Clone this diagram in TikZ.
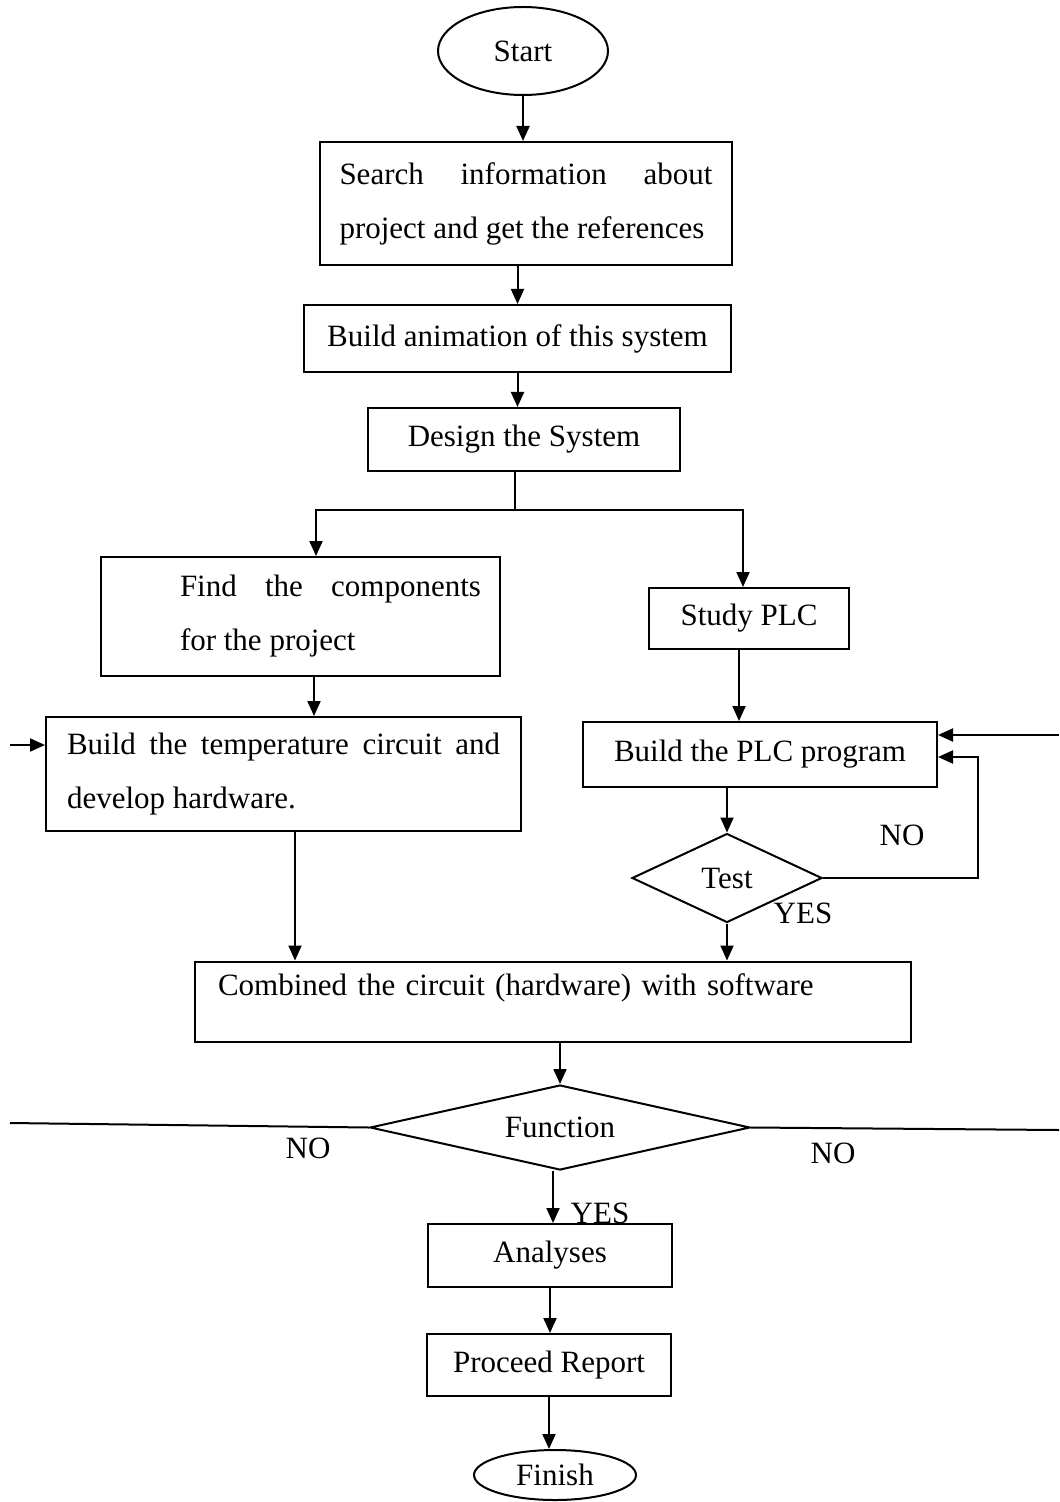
\documentclass[tikz,border=0pt]{standalone}
\usepackage{fontspec}
\setmainfont{Liberation Serif}
\usetikzlibrary{arrows.meta,shapes.geometric}
\hyphenpenalty=10000
\tolerance=9999

\begin{document}
\begin{tikzpicture}[x=0.5pt,y=-0.5pt,>={Triangle[length=7.5pt,width=6.5pt]},
  line width=1pt,
  font=\fontsize{15.5pt}{27pt}\selectfont,
  term/.style={draw,ellipse,inner sep=0pt},
  proc/.style={draw,rectangle,inner sep=0pt,align=center},
  para/.style={draw,rectangle,inner ysep=0pt,align=justify},
  decide/.style={draw,diamond,inner sep=0pt},
  lbl/.style={inner sep=0pt}]
  \useasboundingbox (0,0) rectangle (1059,1502);
  % main column
  \node[term,minimum width=85pt,minimum height=44pt] (start) at (523,51) {Start};
  \node[para,text width=186.5pt,inner xsep=9.75pt,minimum height=61.5pt] (search) at (526,203.5)
       {Search information about project and get the references};
  \node[proc,minimum width=213.5pt,minimum height=33.5pt] (anim) at (517.5,338.5) {Build animation of this system};
  \node[proc,minimum width=156pt,minimum height=31.5pt] (design) at (524,439.5) {Design the System};
  % left branch (hardware)
  \node[para,text width=180.5pt,inner xsep=9.5pt,minimum height=59.5pt] (find) at (300.5,616.5)
       {{\leftskip=30pt Find the components\linebreak for the project\par}};
  \node[para,text width=216.5pt,inner xsep=10.5pt,minimum height=57pt] (temp) at (283.5,774)
       {Build the temperature circuit and develop hardware.};
  % right branch (software)
  \node[proc,minimum width=100pt,minimum height=30.5pt] (plc) at (749,618.5) {Study PLC};
  \node[proc,minimum width=177pt,minimum height=32.5pt] (prog) at (760,754.5) {Build the PLC program};
  \node[decide,shape aspect=2.1,minimum width=95pt,minimum height=44.5pt] (test) at (727,878) {Test};
  % joined part
  \node[draw,rectangle,text width=335pt,inner xsep=11.5pt,inner ysep=3pt,align=left,
        text height=14pt,text depth=20pt] (comb) at (553,1001.5)
       {Combined the circuit (hardware) with software};
  \node[decide,shape aspect=4.4,minimum width=190pt,minimum height=42.5pt] (func) at (560,1127.5) {Function};
  \node[proc,minimum width=122pt,minimum height=31.5pt] (anal) at (550,1255.5) {Analyses};
  \node[proc,minimum width=122pt,minimum height=31pt] (report) at (549,1365) {Proceed Report};
  \node[term,minimum width=81pt,minimum height=25pt] (finish) at (555,1475) {Finish};
  % labels
  \node[lbl] (noTest) at (902,835) {NO};
  \node[lbl] (yesTest) at (803,913) {YES};
  \node[lbl] (noL) at (308,1148) {NO};
  \node[lbl] (noR) at (833,1153) {NO};
  \node[lbl] (yesFunc) at (600,1213) {YES};
  % free ends and bends
  \coordinate (split) at (515,510);
  \coordinate (bl) at (316,510);
  \coordinate (br) at (743,510);
  \coordinate (inL) at (10,745);
  \coordinate (inR) at (1059,735);
  \coordinate (loopc) at (978,757);
  \coordinate (outL) at (10,1123);
  \coordinate (outR) at (1059,1130);
  % connectors
  \draw[->] (start.south) -- (start.south |- search.north);
  \draw[->] (search.south -| anim.north) -- (anim.north);
  \draw[->] (anim.south) -- (anim.south |- design.north);
  \draw (design.south -| split) -- (split);
  \draw[->] (split) -- (bl) -- (bl |- find.north);
  \draw[->] (split) -- (br) -- (br |- plc.north);
  \draw[->] ([xshift=6.75pt]find.south) -- ([xshift=6.75pt]find.south |- temp.north);
  \draw[->] (inL) -- (inL -| temp.west);
  \draw[->] ([xshift=5.75pt]temp.south) -- ([xshift=5.75pt]temp.south |- comb.north);
  \draw[->] ([xshift=-5pt]plc.south) -- ([xshift=-5pt]plc.south |- prog.north);
  \draw[->] (inR) -- (inR -| prog.east);
  \draw[->] (prog.south -| test.north) -- (test.north);
  \draw[->] (test.east) -| (loopc) -- (loopc -| prog.east);
  \draw[->] (test.south) -- (test.south |- comb.north);
  \draw[->] (comb.south -| func.north) -- (func.north);
  \draw (func.west) -- (outL);
  \draw (func.east) -- (outR);
  \draw[->] ([xshift=-3.5pt]func.south) -- ([xshift=-3.5pt]func.south |- anal.north);
  \draw[->] (anal.south) -- (anal.south |- report.north);
  \draw[->] (report.south) -- (report.south |- finish.north);
\end{tikzpicture}
\end{document}
